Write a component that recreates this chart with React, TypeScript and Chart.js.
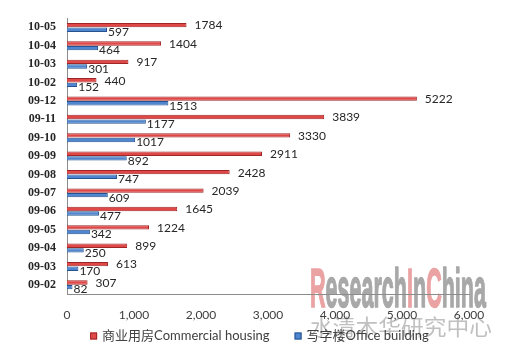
import React, { useEffect, useRef } from "react";
import { Chart, registerables } from "chart.js";

Chart.register(...registerables);

const categories = ["10-05", "10-04", "10-03", "10-02", "09-12", "09-11", "09-10", "09-09", "09-08", "09-07", "09-06", "09-05", "09-04", "09-03", "09-02"];
const commercialHousing = [1784, 1404, 917, 440, 5222, 3839, 3330, 2911, 2428, 2039, 1645, 1224, 899, 613, 307];
const officeBuilding = [597, 464, 301, 152, 1513, 1177, 1017, 892, 747, 609, 477, 342, 250, 170, 82];
const seriesNames = ["商业用房Commercial housing", "写字楼Office building"];
const axisMin = 0;
const axisMax = 6000;
const axisStep = 1000;
const watermarkParts = [
  { text: "R", red: true },
  { text: "esearch", red: false },
  { text: "I", red: true },
  { text: "n", red: false },
  { text: "C", red: true },
  { text: "hina", red: false },
];
const watermarkCn = "水清木华研究中心";

const FONT = "Lato, 'Noto Sans CJK SC', sans-serif";
const RED = "#e04848";
const RED_EDGE = "#9e2626";
const BLUE = "#4f86cf";
const BLUE_EDGE = "#24538f";

const valueLabelPlugin = {
  id: "valueLabels",
  afterDatasetsDraw(chart: any) {
    const ctx = chart.ctx;
    ctx.save();
    ctx.font = `12px ${FONT}`;
    ctx.fillStyle = "#262626";
    ctx.textBaseline = "middle";
    ctx.textAlign = "left";
    chart.data.datasets.forEach((ds: any, di: number) => {
      const meta = chart.getDatasetMeta(di);
      meta.data.forEach((bar: any, i: number) => {
        const v = ds.data[i];
        if (di === 0) {
          ctx.fillText(String(v), bar.x + 8, bar.y + 0.5);
        } else {
          ctx.fillText(String(v), bar.x + 1, bar.y + 2.5);
        }
      });
    });
    ctx.restore();
  },
};

const watermarkPlugin = {
  id: "watermark",
  beforeDraw(chart: any) {
    const ctx = chart.ctx;
    ctx.save();
    ctx.font = `bold 55px 'Liberation Sans Narrow', 'Liberation Sans', sans-serif`;
    ctx.textBaseline = "alphabetic";
    ctx.textAlign = "left";
    const full = watermarkParts.map((p) => p.text).join("");
    const w = ctx.measureText(full).width;
    const targetW = 176;
    const sx = targetW / w;
    ctx.translate(310, 307);
    ctx.scale(sx, 1);
    let x = 0;
    watermarkParts.forEach((p) => {
      const c = p.red ? "#eaa2a2" : "#a8a8a8";
      ctx.fillStyle = c;
      ctx.strokeStyle = c;
      ctx.lineWidth = 1.5;
      ctx.lineJoin = "round";
      ctx.strokeText(p.text, x, 0);
      ctx.fillText(p.text, x, 0);
      x += ctx.measureText(p.text).width;
    });
    ctx.restore();

    ctx.save();
    ctx.font = `22px 'Noto Sans CJK SC', sans-serif`;
    ctx.textBaseline = "middle";
    ctx.textAlign = "left";
    ctx.fillStyle = "rgba(150,150,150,0.6)";
    const cw = ctx.measureText(watermarkCn).width;
    ctx.translate(310, 327);
    ctx.scale(182 / cw, 1);
    ctx.fillText(watermarkCn, 0, 0);
    ctx.restore();
  },
};

const legendPlugin = {
  id: "customLegend",
  afterDraw(chart: any) {
    const ctx = chart.ctx;
    ctx.save();
    ctx.font = `13px ${FONT}`;
    ctx.textBaseline = "middle";
    const box = 7;
    const gap = 5;
    const itemGap = 25;
    const colors = [[RED, RED_EDGE], [BLUE, BLUE_EDGE]];
    const widths = seriesNames.map((n) => ctx.measureText(n).width);
    const total = widths.reduce((a, w) => a + box + gap + w, 0) + itemGap;
    let x = chart.width / 2 - total / 2 + 3;
    const y = 336;
    seriesNames.forEach((n, i) => {
      ctx.fillStyle = colors[i][0];
      ctx.fillRect(x, y - box / 2, box, box);
      ctx.strokeStyle = colors[i][1];
      ctx.lineWidth = 1;
      ctx.strokeRect(x + 0.5, y - box / 2 + 0.5, box - 1, box - 1);
      ctx.fillStyle = "#404040";
      ctx.textAlign = "left";
      ctx.fillText(n, x + box + gap, y);
      x += box + gap + widths[i] + itemGap;
    });
    ctx.restore();
  },
};

export default function App() {
  const canvasRef = useRef<HTMLCanvasElement | null>(null);

  useEffect(() => {
    if (!canvasRef.current) return;
    const chart = new Chart(canvasRef.current, {
      type: "bar",
      data: {
        labels: categories,
        datasets: [
          {
            label: seriesNames[0],
            data: commercialHousing,
            backgroundColor: RED,
            borderColor: RED_EDGE,
            borderWidth: 1,
            categoryPercentage: 0.5,
            barPercentage: 0.95,
          },
          {
            label: seriesNames[1],
            data: officeBuilding,
            backgroundColor: BLUE,
            borderColor: BLUE_EDGE,
            borderWidth: 1,
            categoryPercentage: 0.5,
            barPercentage: 0.95,
          },
        ],
      },
      options: {
        indexAxis: "y",
        responsive: false,
        animation: false,
        devicePixelRatio: 1,
        layout: { padding: { left: 0, right: 44, top: 15, bottom: 14 } },
        plugins: {
          legend: { display: false },
          tooltip: { enabled: false },
        },
        scales: {
          x: {
            type: "linear",
            min: axisMin,
            max: axisMax,
            ticks: {
              stepSize: axisStep,
              padding: 14,
              color: "#404040",
              font: { family: FONT, size: 12 },
              maxRotation: 0,
            },
            grid: { display: false, drawTicks: false },
            border: { display: true, color: "#8c8c8c", width: 1 },
            afterFit: (s: any) => {
              s.height = 50;
            },
          },
          y: {
            type: "category",
            ticks: {
              color: "#262626",
              font: { family: "'Liberation Serif', serif", size: 12, weight: "bold" },
              padding: 11,
            },
            grid: { display: false, drawTicks: false },
            border: { display: true, color: "#8c8c8c", width: 1 },
            afterFit: (s: any) => {
              s.width = 67;
            },
          },
        },
      } as any,
      plugins: [valueLabelPlugin, watermarkPlugin, legendPlugin],
    });
    return () => chart.destroy();
  }, []);

  return (
    <div style={{ position: "absolute", left: 0, top: 0, width: 513, height: 358, background: "#fff" }}>
      <canvas ref={canvasRef} width={513} height={358} />
    </div>
  );
}
